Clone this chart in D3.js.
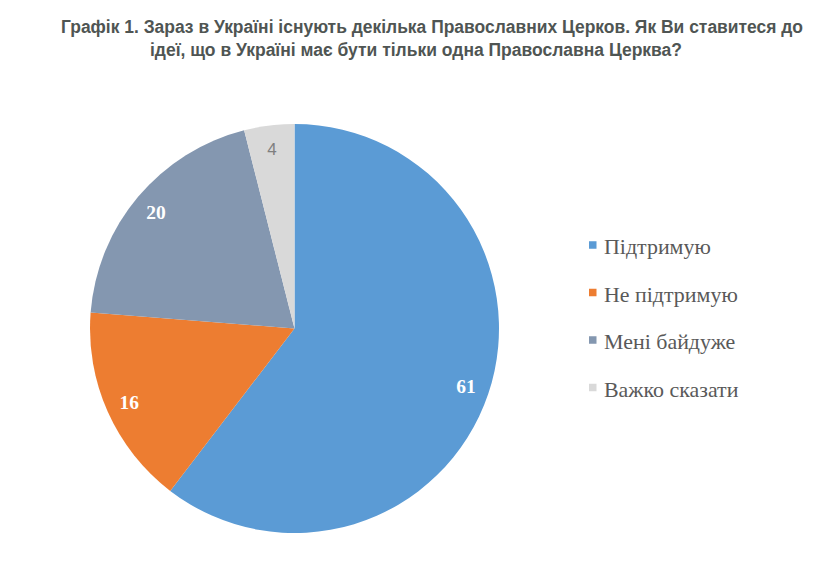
<!DOCTYPE html>
<html>
<head>
<meta charset="utf-8">
<script src="https://cdn.jsdelivr.net/npm/d3@7"></script>
<style>
body { margin: 0; background: #fff; }
</style>
</head>
<body>
<svg id="chart" width="835" height="574"></svg>
<script>
// data
var categories = ["Підтримую", "Не підтримую", "Мені байдуже", "Важко сказати"];
var values = [61, 16, 20, 4];
var colors = ["#5b9bd5", "#ed7d31", "#8497b0", "#d9d9d9"];
var titleLines = [
	"Графік 1. Зараз в Україні існують декілька Православних Церков. Як Ви ставитеся до",
	"ідеї, що в Україні має бути тільки одна Православна Церква?"
];

var svg = d3.select("#chart");

// title, stretched upward a bit (the original uses a narrow font)
var titleBox = [ {
	x : 61,
	w : 742,
	y : 32.5
}, {
	x : 150,
	w : 532,
	y : 56
} ];

svg.append("g").selectAll("text").data(titleLines).enter().append("text") //
.attr("transform", function(d, i) {
	return "translate(" + titleBox[i].x + "," + titleBox[i].y + ") scale(1,1.09)";
}) //
.attr("textLength", function(d, i) {
	return titleBox[i].w;
}) //
.attr("lengthAdjust", "spacingAndGlyphs") //
.attr("font-family", "'Liberation Sans', Arial, sans-serif") //
.attr("font-weight", "bold") //
.attr("font-size", "17px") //
.attr("fill", "#4f5553") //
.text(function(d) {
	return d;
});

// pie
var cx = 294.5, cy = 328.5, radius = 204.5;

var pie = d3.pie().sort(null).value(function(d) {
	return d;
});
var arcs = pie(values);
var arc = d3.arc().innerRadius(0).outerRadius(radius);
var labelArc = d3.arc().innerRadius(radius * 0.885).outerRadius(radius * 0.885);

var pieLayer = svg.append("g").attr("transform", "translate(" + cx + "," + cy + ")");

pieLayer.selectAll("path").data(arcs).enter().append("path") //
.attr("d", arc) //
.attr("fill", function(d, i) {
	return colors[i];
});

pieLayer.selectAll("text").data(arcs).enter().append("text") //
.attr("transform", function(d) {
	return "translate(" + labelArc.centroid(d) + ")";
}) //
.attr("text-anchor", "middle") //
.attr("dy", "0.35em") //
.attr("font-family", function(d, i) {
	// last label drawn in a plain sans face, as in the original
	return i == 3 ? "'Liberation Sans', Arial, sans-serif" : "'Liberation Serif', 'Times New Roman', serif";
}) //
.attr("font-weight", function(d, i) {
	return i == 3 ? "normal" : "bold";
}) //
.attr("font-size", function(d, i) {
	return i == 3 ? "17px" : "19.5px";
}) //
.attr("fill", function(d, i) {
	return i == 3 ? "#7f7f7f" : "#fff";
}) //
.text(function(d) {
	return d.data;
});

// legend
var legend = svg.append("g").attr("transform", "translate(589,245)");

var rows = legend.selectAll("g").data(categories).enter().append("g") //
.attr("transform", function(d, i) {
	return "translate(0," + (i * 47.5) + ")";
});

rows.append("rect") //
.attr("x", 0) //
.attr("y", -3.75) //
.attr("width", 7.5) //
.attr("height", 7.5) //
.attr("fill", function(d, i) {
	return colors[i];
});

rows.append("text") //
.attr("transform", "translate(15,9) scale(1.07,1)") //
.attr("font-family", "'Liberation Serif', 'Times New Roman', serif") //
.attr("font-size", "20.5px") //
.attr("fill", "#595959") //
.text(function(d) {
	return d;
});
</script>
</body>
</html>
